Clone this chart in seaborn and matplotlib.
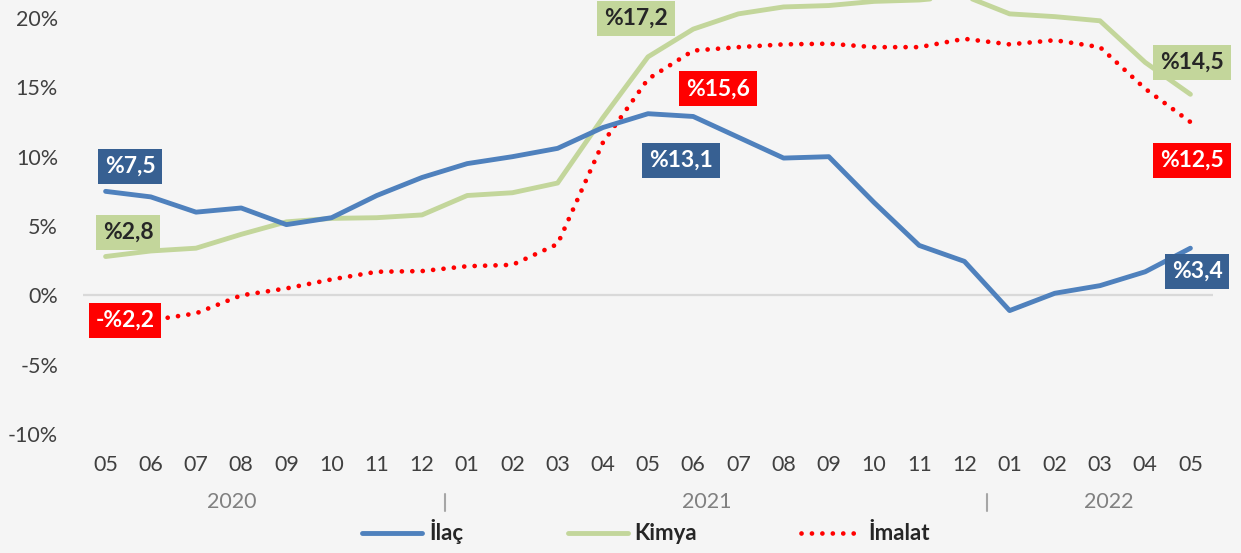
import numpy as np
import pandas as pd
import matplotlib
matplotlib.use("Agg")
import matplotlib.pyplot as plt
import matplotlib.transforms as mtransforms
from matplotlib.lines import Line2D
import seaborn as sns

# ---------------- data ----------------
months = ["05", "06", "07", "08", "09", "10", "11", "12",
          "01", "02", "03", "04", "05", "06", "07", "08", "09", "10", "11", "12",
          "01", "02", "03", "04", "05"]
years = ["2020", "2021", "2022"]
year_pos = [2.8, 13.3, 22.2]          # where the year captions sit (category units)
year_breaks = [7.5, 19.5]             # separators between years

ilac = [7.5, 7.1, 6.0, 6.3, 5.1, 5.6, 7.2, 8.5, 9.5, 10.0, 10.6, 12.1, 13.1,
        12.9, 11.4, 9.9, 10.0, 6.7, 3.6, 2.45, -1.1, 0.15, 0.7, 1.7, 3.4]
kimya = [2.8, 3.2, 3.4, 4.4, 5.3, 5.55, 5.6, 5.8, 7.2, 7.4, 8.1, 12.8, 17.2,
         19.2, 20.3, 20.8, 20.9, 21.2, 21.3, 21.6, 20.3, 20.1, 19.8, 16.8, 14.5]
imalat = [-2.2, -1.8, -1.3, 0.0, 0.5, 1.15, 1.7, 1.75, 2.1, 2.2, 3.7, 11.0, 15.6,
          17.65, 17.9, 18.1, 18.15, 17.9, 17.9, 18.5, 18.1, 18.4, 17.9, 14.9, 12.5]
series_names = ["İlaç", "Kimya", "İmalat"]

# index of annotated points per series, and label centres (category units, %)
label_idx = {"İlaç": [0, 12, 24], "Kimya": [0, 12, 24], "İmalat": [0, 12, 24]}
label_xy = {"İlaç": [(0.54, 9.3), (12.73, 9.73), (24.15, 1.73)],
            "Kimya": [(0.50, 4.54), (11.73, 19.96), (24.04, 16.8)],
            "İmalat": [(0.43, -1.8), (13.55, 14.9), (24.04, 9.73)]}

# ---------------- style ----------------
bg = "#f5f5f5"
line_colors = {"İlaç": "#4f81bd", "Kimya": "#c3d69b", "İmalat": "#ff0000"}
box_colors = {"İlaç": "#376092", "Kimya": "#c3d69b", "İmalat": "#ff0000"}
text_colors = {"İlaç": "white", "Kimya": "#262626", "İmalat": "white"}

sns.set_style("white")
plt.rcParams["font.family"] = ["Lato", "DejaVu Sans"]

W, H = 1241, 553
fig = plt.figure(figsize=(W / 100, H / 100), dpi=100, facecolor=bg)
ax = fig.add_axes([83 / W, 1 - 434 / H, 1130 / W, 434 / H])
ax.set_facecolor(bg)

df = pd.DataFrame({"pos": np.arange(len(months)),
                   "İlaç": ilac, "Kimya": kimya, "İmalat": imalat})
series_data = {"İlaç": ilac, "Kimya": kimya, "İmalat": imalat}

ax.axhline(0, color="#d9d9d9", lw=1.6, zorder=1)

sns.lineplot(data=df, x="pos", y="İlaç", ax=ax, color=line_colors["İlaç"],
             lw=3.5, errorbar=None, solid_capstyle="round", zorder=3)
sns.lineplot(data=df, x="pos", y="Kimya", ax=ax, color=line_colors["Kimya"],
             lw=3.5, errorbar=None, solid_capstyle="round", zorder=2)
sns.lineplot(data=df, x="pos", y="İmalat", ax=ax, color=line_colors["İmalat"],
             lw=3.4, errorbar=None, linestyle=(0, (0.01, 2.2)),
             dash_capstyle="round", zorder=2)

ax.set_xlim(-0.5, len(months) - 0.5)
ax.set_ylim(-10, 21.3)
ax.set_xlabel("")
ax.set_ylabel("")
ax.set_xticks(np.arange(len(months)))
ax.set_xticklabels(months)
yt = [-10, -5, 0, 5, 10, 15, 20]
ax.set_yticks(yt)
ax.set_yticklabels([f"{v}%" for v in yt])
ax.tick_params(axis="x", length=0, pad=15, labelsize=15.5, labelcolor="#404040")
ax.tick_params(axis="y", length=0, pad=18, labelsize=15.5, labelcolor="#404040")
for s in ax.spines.values():
    s.set_visible(False)
ax.grid(False)

# year captions and separators
trans = mtransforms.blended_transform_factory(ax.transData, fig.transFigure)
for yr, xp in zip(years, year_pos):
    ax.text(xp, 1 - 502 / H, yr, transform=trans, ha="center", va="center",
            fontsize=15.5, color="#808080", clip_on=False)
for xb in year_breaks:
    ax.add_line(Line2D([xb, xb], [1 - 494 / H, 1 - 511 / H], transform=trans,
                       color="#a6a6a6", lw=1.5, clip_on=False))

# data labels
def fmt(v):
    s = f"%{abs(v):.1f}".replace(".", ",")
    return "-" + s if v < 0 else s

for name in series_names:
    vals = series_data[name]
    for i, (lx, ly) in zip(label_idx[name], label_xy[name]):
        ax.text(lx, ly, fmt(vals[i]), ha="center", va="center", fontsize=16.5,
                fontweight="bold", color=text_colors[name], zorder=5,
                clip_on=False,
                bbox=dict(boxstyle="square,pad=0.3", fc=box_colors[name],
                          ec="none"))

# legend
handles = [Line2D([], [], color=line_colors["İlaç"], lw=3.5, solid_capstyle="round"),
           Line2D([], [], color=line_colors["Kimya"], lw=3.5, solid_capstyle="round"),
           Line2D([], [], color=line_colors["İmalat"], lw=3.4,
                  linestyle=(0, (0.01, 2.2)), dash_capstyle="round")]
leg = fig.legend(handles, series_names, loc="center", ncol=3,
                 bbox_to_anchor=(646 / W, 1 - 532 / H), frameon=False,
                 handlelength=2.7, handletextpad=0.3, columnspacing=4.7,
                 prop={"size": 16, "weight": "bold"})
for t in leg.get_texts():
    t.set_color("#262626")

fig.savefig("out.png", dpi=100, facecolor=bg)
